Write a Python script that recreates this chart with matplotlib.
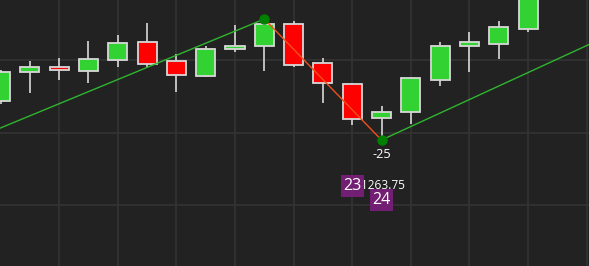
import matplotlib.pyplot as plt
from matplotlib.patches import Rectangle

# OHLC per bar
opens  = [1256.5, 1262.5, 1263.5, 1262.75, 1265.0, 1268.75, 1264.75, 1261.75, 1267.25, 1268.0,
          1272.5, 1264.5, 1260.0, 1253.0, 1254.25, 1261.0, 1268.0, 1268.25, 1271.5]
highs  = [1263.0, 1264.75, 1265.5, 1269.0, 1270.25, 1272.75, 1266.25, 1268.0, 1272.25, 1273.5,
          1273.0, 1265.5, 1260.25, 1255.5, 1261.25, 1268.75, 1270.75, 1273.0, 1280.0]
lows   = [1256.0, 1258.25, 1261.0, 1260.25, 1263.5, 1263.5, 1258.5, 1261.5, 1266.75, 1262.75,
          1263.5, 1256.25, 1251.5, 1248.5, 1251.75, 1259.75, 1262.5, 1265.25, 1270.75]
closes = [1262.5, 1263.5, 1263.0, 1265.25, 1268.5, 1264.25, 1262.0, 1267.25, 1268.0, 1272.5,
          1264.0, 1260.25, 1252.75, 1254.25, 1261.25, 1268.0, 1268.75, 1271.75, 1279.0]

# zigzag swing: high bar 9 -> low bar 13
swing_x = [9, 13]
swing_y = [1273.5, 1248.5]
swing_label = "-25"

# green trend lines
trend1_x = [0, 9]
trend1_y = [1251.0, 1273.5]
trend2_x = [13, 21]
trend2_y = [1248.5, 1270.8]

# purple bar-number tags and price text
tag_x = [12, 13]
tag_y = [1239.0, 1236.1]
tag_text = ["23", "24"]
price_text = "11263.75"
price_pos = (12.1, 1239.2)

bg = '#222222'
fig = plt.figure(figsize=(5.89, 2.66), dpi=100, facecolor=bg)
ax = fig.add_axes([0, 0, 1, 1])
ax.set_facecolor(bg)

ax.set_xlim(-0.02, 20.08)
ax.set_ylim(1222.47, 1277.43)

for v in range(2, 21, 2):
    ax.axvline(v, color='#333333', lw=1.2, zorder=0)
for h in [1235, 1250, 1265]:
    ax.axhline(h, color='#333333', lw=1.2, zorder=0)

for i in range(len(opens)):
    o, h, l, c = opens[i], highs[i], lows[i], closes[i]
    col = '#33d233' if c >= o else '#ff0000'
    ax.vlines(i, l, h, color='#d8d8d8', lw=1.2, zorder=2)
    ax.bar(i, abs(c - o), bottom=min(o, c), width=0.65, color=col,
           edgecolor='#d8d8d8', linewidth=1.3, zorder=3)

ax.plot(trend1_x, trend1_y, color='#2fb52f', lw=1.0, zorder=4)
ax.plot(trend2_x, trend2_y, color='#2fb52f', lw=1.0, zorder=4)
ax.plot(swing_x, swing_y, color='#f0501a', lw=1.0, zorder=4)
ax.plot(swing_x, swing_y, 'o', color='#008000', ms=6.5, zorder=5)

ax.text(swing_x[1], swing_y[1] - 1.7, swing_label, color='white', fontsize=9.2,
        ha='center', va='top', family='Open Sans', zorder=6)

ax.text(price_pos[0], price_pos[1], price_text, color='white', fontsize=8.6,
        ha='left', va='center', family='Open Sans', zorder=6)

for x, y, t in zip(tag_x, tag_y, tag_text):
    ax.add_patch(Rectangle((x - 0.39, y - 2.3), 0.78, 4.6, facecolor='#7a1e7a',
                           alpha=0.92, edgecolor='none', zorder=7))
    ax.text(x, y, t, color='white', fontsize=11.5, ha='center', va='center',
            family='Open Sans', zorder=8)

ax.axis('off')
fig.savefig('out.png', dpi=100, facecolor=bg)
